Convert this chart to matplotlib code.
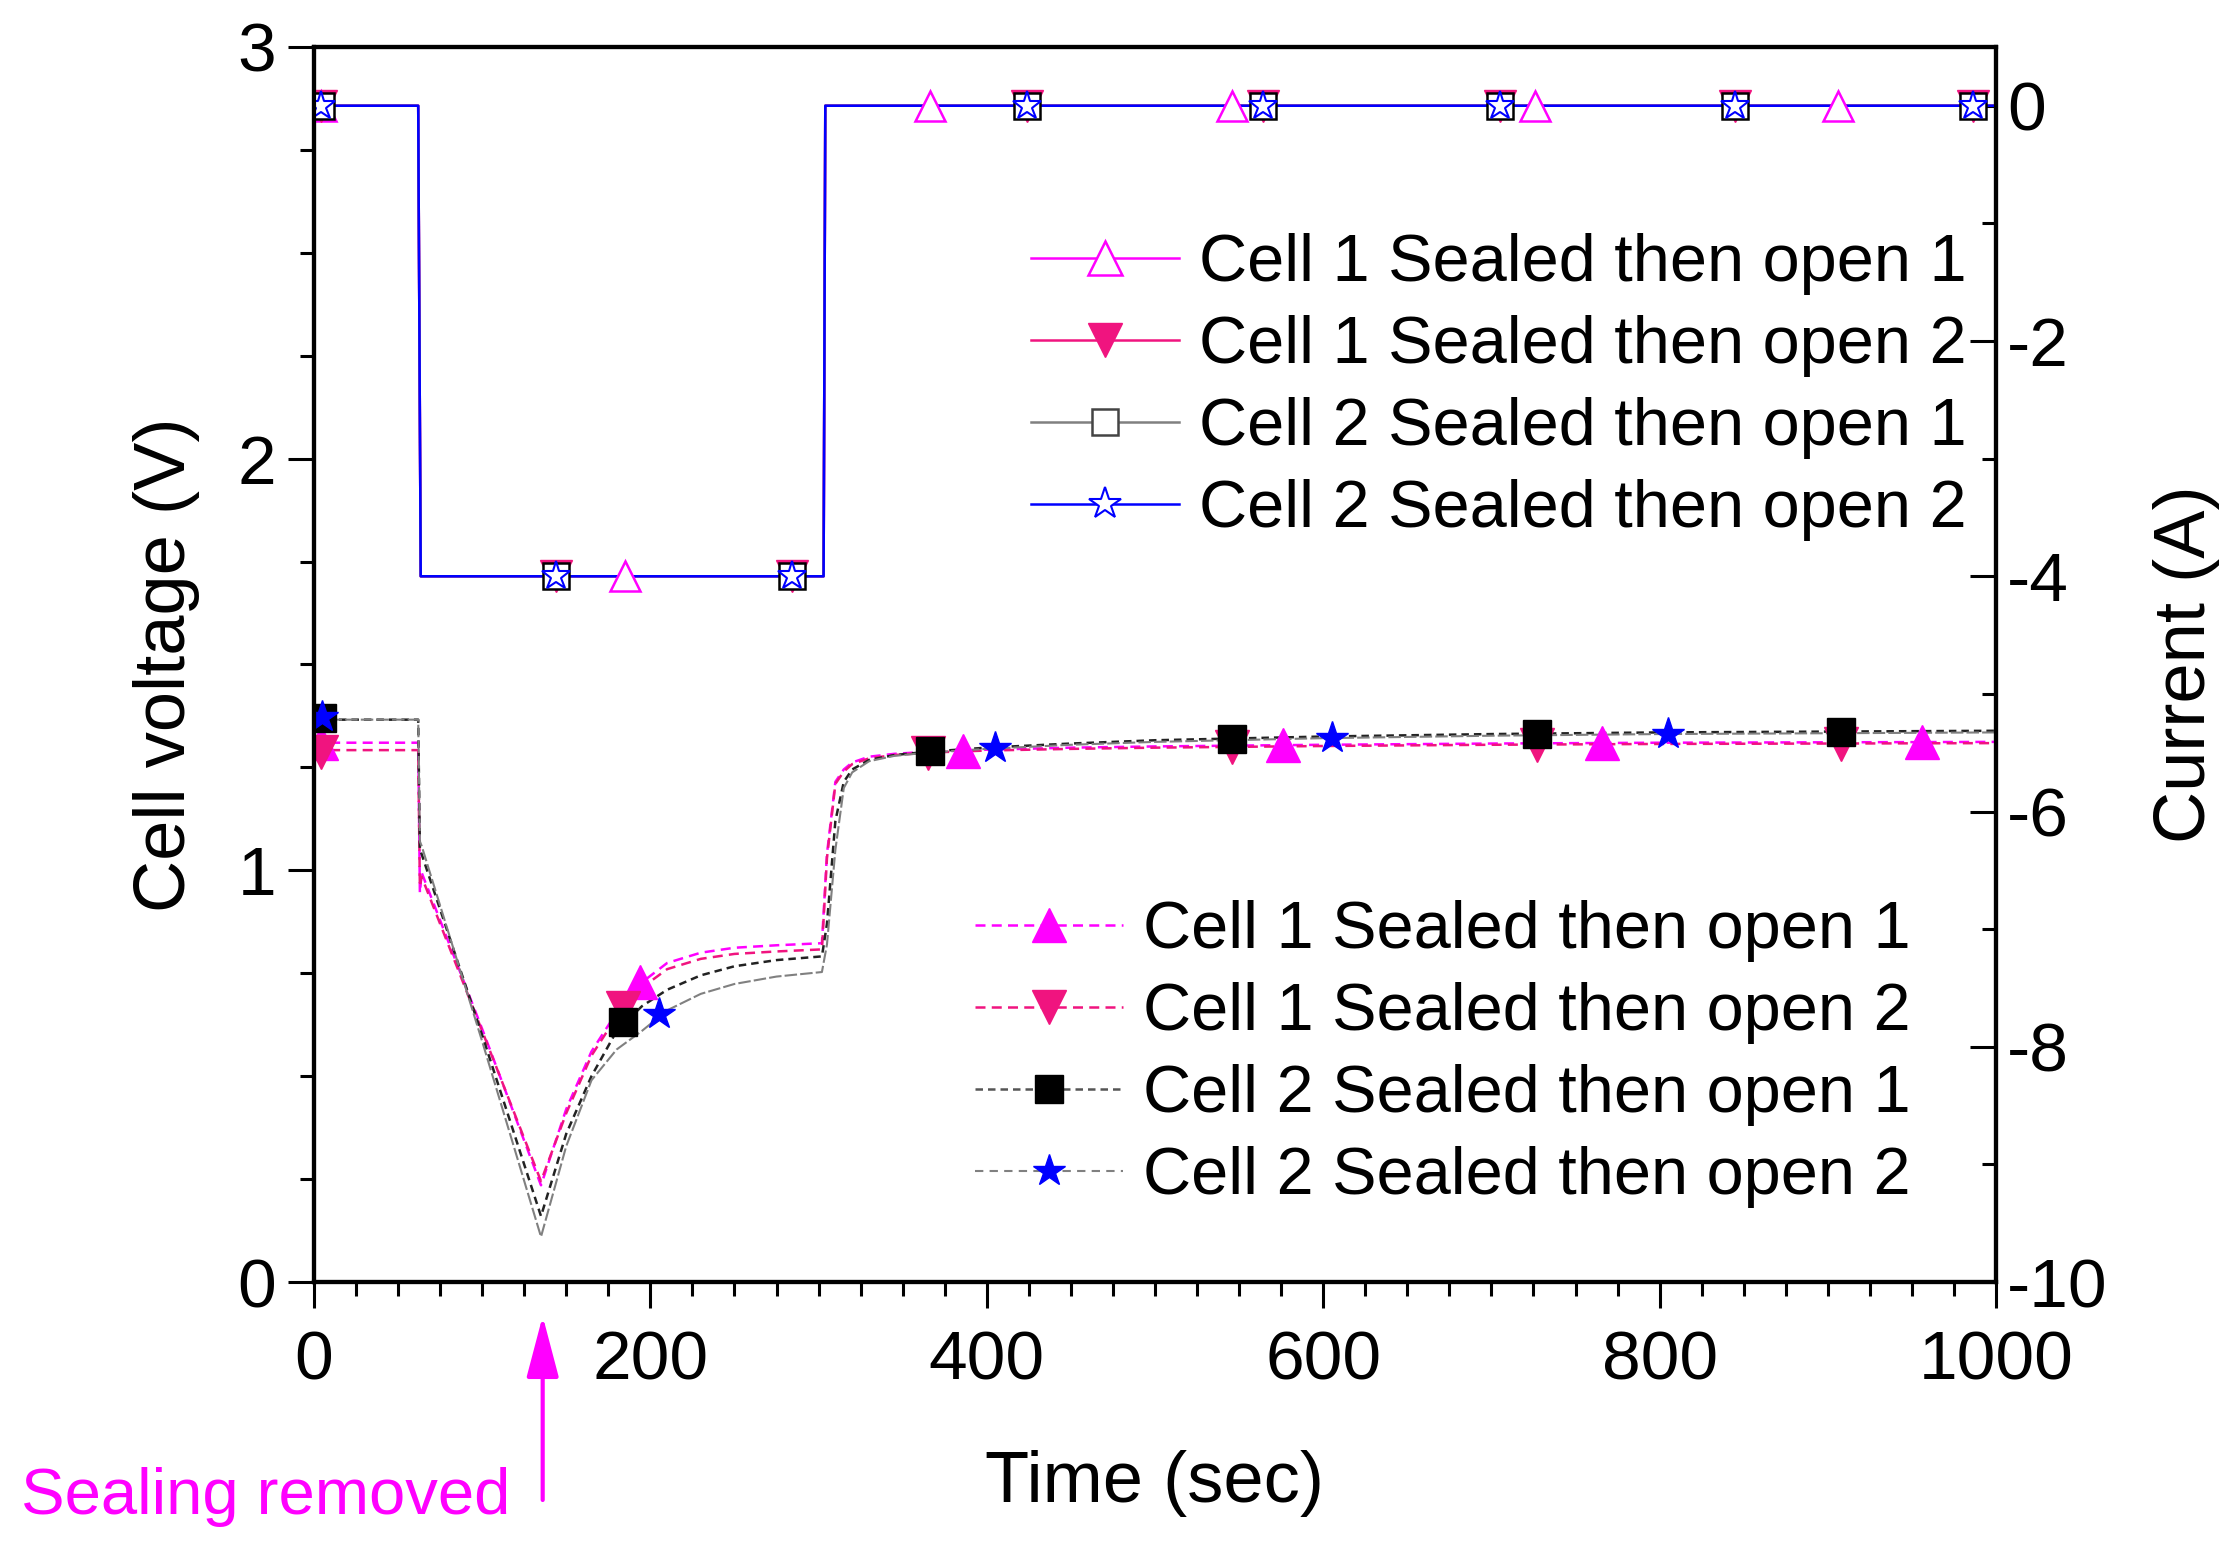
import matplotlib
matplotlib.use('Agg')
import matplotlib.pyplot as plt
from matplotlib.lines import Line2D
from matplotlib.ticker import MultipleLocator

plt.rcParams['font.family'] = ['Liberation Sans', 'DejaVu Sans']
plt.rcParams['axes.unicode_minus'] = False

labels = ['Cell 1 Sealed then open 1', 'Cell 1 Sealed then open 2',
          'Cell 2 Sealed then open 1', 'Cell 2 Sealed then open 2']

# Cell voltage traces (time in s, voltage in V)
t_v = [0, 62, 63, 64, 100, 135, 150, 165, 180, 195, 210, 230, 250, 275, 302,
       305, 310, 315, 320, 330, 345, 365, 400, 450, 500, 600, 700, 800, 900, 1000]
v_c1o1 = [1.310, 1.310, 0.945, 0.995, 0.615, 0.235, 0.420, 0.560, 0.655, 0.728,
          0.775, 0.800, 0.812, 0.818, 0.823, 1.040, 1.215, 1.245, 1.262, 1.276,
          1.283, 1.288, 1.293, 1.298, 1.301, 1.305, 1.308, 1.310, 1.311, 1.312]
v_c1o2 = [1.292, 1.292, 0.960, 0.985, 0.610, 0.245, 0.410, 0.550, 0.645, 0.715,
          0.760, 0.785, 0.797, 0.803, 0.808, 1.030, 1.210, 1.240, 1.258, 1.272,
          1.280, 1.286, 1.291, 1.295, 1.298, 1.302, 1.305, 1.307, 1.308, 1.309]
v_c2o1 = [1.366, 1.366, 1.050, 1.040, 0.600, 0.160, 0.360, 0.500, 0.610, 0.670,
          0.710, 0.745, 0.767, 0.782, 0.791, 0.870, 1.120, 1.215, 1.245, 1.268,
          1.280, 1.288, 1.298, 1.308, 1.316, 1.325, 1.331, 1.335, 1.337, 1.339]
v_c2o2 = [1.366, 1.366, 1.070, 1.060, 0.585, 0.110, 0.330, 0.490, 0.565, 0.610,
          0.660, 0.700, 0.724, 0.742, 0.753, 0.820, 1.050, 1.200, 1.238, 1.265,
          1.278, 1.286, 1.295, 1.305, 1.312, 1.321, 1.327, 1.331, 1.333, 1.335]

# voltage symbols
vm_c1o1_t = [4, 194, 386, 576, 766, 956]
vm_c1o1_v = [1.310, 0.728, 1.291, 1.304, 1.309, 1.312]
vm_c1o2_t = [4, 184, 365, 546, 727, 908]
vm_c1o2_v = [1.288, 0.665, 1.284, 1.300, 1.305, 1.308]
vm_c2o1_t = [5, 184, 366, 546, 727, 908]
vm_c2o1_v = [1.370, 0.632, 1.290, 1.320, 1.331, 1.337]
vm_c2o2_t = [5, 205, 405, 605, 805]
vm_c2o2_v = [1.372, 0.650, 1.296, 1.321, 1.331]

# Applied current (same step for all four runs)
t_i = [0, 62, 63.5, 303, 304, 1000]
i_all = [0, 0, -4, -4, 0, 0]

# current symbols
im_c1o1_t = [4, 185, 366, 546, 726, 906]
im_c1o1_i = [0, -4, 0, 0, 0, 0]
im_rest_t = [4, 144, 284, 424, 564, 705, 845, 986]
im_rest_i = [0, -4, -4, 0, 0, 0, 0, 0]

magenta = '#FF00FF'
pink = '#F0147F'
gray = '#808080'
blue = '#0000FF'

fig = plt.figure(figsize=(22.39, 15.54), dpi=100)
ax1 = fig.add_axes([0.1402, 0.1750, 0.7513, 0.7948])
ax2 = ax1.twinx()

# ---- voltage (left axis)
ax1.plot(t_v, v_c1o1, color=magenta, lw=1.8, dashes=(4, 2.5))
ax1.plot(t_v, v_c1o2, color=pink, lw=1.8, dashes=(4, 2.5))
ax1.plot(t_v, v_c2o1, color='#222222', lw=1.8, dashes=(3, 2))
ax1.plot(t_v, v_c2o2, color=gray, lw=1.5, dashes=(6, 1.5))

ax1.plot(vm_c1o1_t, vm_c1o1_v, ls='none', marker='^', ms=24, color=magenta)
ax1.plot(vm_c1o2_t, vm_c1o2_v, ls='none', marker='v', ms=24, color=pink)
ax1.plot(vm_c2o1_t, vm_c2o1_v, ls='none', marker='s', ms=20, color='black')
ax1.plot(vm_c2o2_t, vm_c2o2_v, ls='none', marker='*', ms=24, color=blue)

# ---- current (right axis)
ax2.plot(t_i, i_all, color=magenta, lw=1.8)
ax2.plot(t_i, i_all, color=pink, lw=1.8)
ax2.plot(t_i, i_all, color=gray, lw=1.8)
ax2.plot(t_i, i_all, color=blue, lw=1.8)

ax2.plot(im_c1o1_t, im_c1o1_i, ls='none', marker='^', ms=22, mfc='white', mec=magenta, mew=1.8)
ax2.plot(im_rest_t, im_rest_i, ls='none', marker='v', ms=23, color=pink)
ax2.plot(im_rest_t, im_rest_i, ls='none', marker='s', ms=19, mfc='white', mec='black', mew=1.8)
ax2.plot(im_rest_t, im_rest_i, ls='none', marker='*', ms=21, mfc='white', mec=blue, mew=1.5)

# ---- axes
ax1.set_xlim(0, 1000)
ax1.set_ylim(0, 3)
ax2.set_ylim(-10, 0.5)
ax1.xaxis.set_major_locator(MultipleLocator(200))
ax1.xaxis.set_minor_locator(MultipleLocator(25))
ax1.yaxis.set_major_locator(MultipleLocator(1))
ax1.yaxis.set_minor_locator(MultipleLocator(0.25))
ax2.yaxis.set_major_locator(MultipleLocator(2))
ax2.yaxis.set_minor_locator(MultipleLocator(1))

for ax in (ax1, ax2):
    for sp in ax.spines.values():
        sp.set_linewidth(3)

ax1.tick_params(which='both', direction='out', width=2.2, labelsize=50, top=False, right=False)
ax1.tick_params(which='major', length=19)
ax1.tick_params(which='minor', length=10)
ax1.tick_params(axis='x', pad=15)
ax1.tick_params(axis='y', pad=8)
ax2.tick_params(which='both', direction='in', width=2.2, labelsize=50, pad=8)
ax2.tick_params(which='major', length=19)
ax2.tick_params(which='minor', length=10)

ax1.set_xlabel('Time (sec)', fontsize=52)
ax1.set_ylabel('Cell voltage (V)', fontsize=52)
ax2.set_ylabel('Current (A)', fontsize=52)
ax1.xaxis.set_label_coords(0.5, -0.136)
ax1.yaxis.set_label_coords(-0.068, 0.5)
ax2.yaxis.set_label_coords(1.093, 0.5)

# ---- legends
top_handles = [
    Line2D([], [], color=magenta, lw=1.8, marker='^', ms=24, mfc='white', mec=magenta, mew=1.8),
    Line2D([], [], color=pink, lw=1.8, marker='v', ms=24, mfc=pink, mec=pink),
    Line2D([], [], color=gray, lw=1.8, marker='s', ms=19, mfc='white', mec='#444444', mew=1.8),
    Line2D([], [], color=blue, lw=1.8, marker='*', ms=24, mfc='white', mec=blue, mew=1.5),
]
leg_top = ax2.legend(top_handles, labels, loc='upper left', bbox_to_anchor=(0.426, 0.849),
                     frameon=False, fontsize=48, borderpad=0, borderaxespad=0,
                     handlelength=2.22, handletextpad=0.3, labelspacing=0.3)

bottom_handles = [
    Line2D([], [], color=magenta, lw=1.8, dashes=(4, 2.5), marker='^', ms=24, mfc=magenta, mec=magenta),
    Line2D([], [], color=pink, lw=1.8, dashes=(4, 2.5), marker='v', ms=24, mfc=pink, mec=pink),
    Line2D([], [], color='#555555', lw=1.8, dashes=(3, 2), marker='s', ms=20, mfc='black', mec='black'),
    Line2D([], [], color=gray, lw=1.5, dashes=(4, 3), marker='*', ms=24, mfc=blue, mec=blue),
]
leg_bot = ax1.legend(bottom_handles, labels, loc='upper left', bbox_to_anchor=(0.393, 0.309),
                     frameon=False, fontsize=48, borderpad=0, borderaxespad=0,
                     handlelength=2.22, handletextpad=0.3, labelspacing=0.3)

# ---- annotation
ax1.annotate('', xy=(136, 1 - 1316 / 1554), xycoords=('data', 'figure fraction'),
             xytext=(136, 1 - 1500 / 1554), textcoords=('data', 'figure fraction'),
             annotation_clip=False,
             arrowprops=dict(arrowstyle='-|>,head_length=3.8,head_width=1.0',
                             mutation_scale=10, color=magenta, lw=3,
                             shrinkA=0, shrinkB=0))
fig.text(21 / 2239, 1 - 1514 / 1554, 'Sealing removed', color=magenta,
         fontsize=47, ha='left', va='baseline')

fig.savefig('out.png', dpi=100)
